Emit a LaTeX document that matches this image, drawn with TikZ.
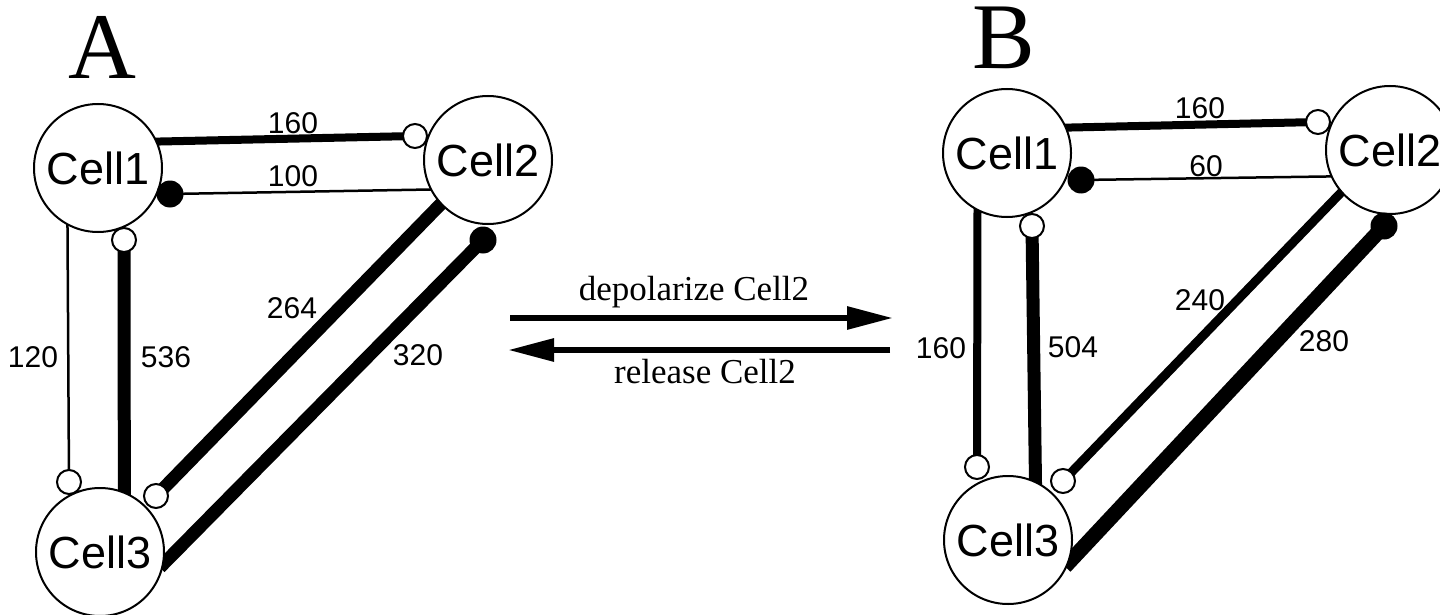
\documentclass[tikz,border=0pt]{standalone}
\usepackage{fontspec}
\setmainfont{Liberation Serif}
\newfontfamily\sansf{Liberation Sans}
\usetikzlibrary{arrows.meta}
\pgfdeclarelayer{bg}
\pgfdeclarelayer{paper}
\pgfsetlayers{paper,bg,main}
\tikzset{
  cell/.style={circle, draw, line width=2pt, fill=white, minimum size=128pt, inner sep=0pt, font=\sansf\fontsize{45}{54}\selectfont},
  opent/.style={circle, draw, line width=2pt, fill=white, minimum size=24pt, inner sep=0pt},
  fillt/.style={circle, fill=black, minimum size=27pt, inner sep=0pt},
  lab/.style={font=\sansf\fontsize{30}{36}\selectfont, inner sep=0pt},
  big/.style={font=\fontsize{94}{108}\selectfont, inner sep=0pt, anchor=base},
  arrtxt/.style={font=\fontsize{35}{42}\selectfont, inner sep=0pt, anchor=base},
  wthin/.style={line width=2.5pt},
  wmed/.style={line width=8pt},
  wthick/.style={line width=13pt},
  wthicker/.style={line width=15pt},
  bigarrow/.style={line width=6pt, -{Triangle[length=46pt,width=22pt]}},
}
\begin{document}
\begin{tikzpicture}[x=1pt,y=-1pt]
\useasboundingbox (0,0) rectangle (1440,615);
\begin{pgfonlayer}{paper}
\fill[white] (0,0) rectangle (1440,615);
\end{pgfonlayer}

% ---------- Panel A ----------
\node[big] (lA) at (102,79) {A};
\node[cell] (a1) at (98,168) {Cell1};
\node[cell] (a2) at (488,160) {Cell2};
\node[cell] (a3) at (100,552) {Cell3};
\node[opent] (ta1) at (415,136) {};
\node[fillt] (ta2) at (170,194) {};
\node[opent] (ta3) at (69,482) {};
\node[opent] (ta4) at (124,240) {};
\node[opent] (ta5) at (156,496) {};
\node[fillt] (ta6) at (483,240) {};

\begin{pgfonlayer}{bg}
\draw[wmed, shorten <=-6pt] (a1.24) -- (ta1.center);
\draw[wthin, shorten >=-6pt] (ta2.center) -- (a2.207);
\draw[wthin, shorten <=-6pt] (a1.242) -- (ta3.center);
\draw[wthick, shorten >=-6pt] (ta4.center) -- (a3.68);
\draw[wthick, shorten <=-6pt] (a2.223) -- (ta5.center);
\draw[wthick, shorten >=-6pt] (ta6.center) -- (a3.350);
\end{pgfonlayer}

\node[lab] (nA160) at (293,123) {160};
\node[lab] (nA100) at (293,176) {100};
\node[lab] (nA120) at (33,357) {120};
\node[lab] (nA536) at (166,357) {536};
\node[lab] (nA264) at (292,308) {264};
\node[lab] (nA320) at (418,355) {320};

% ---------- Arrows ----------
\coordinate (arA) at (510,318);
\coordinate (arB) at (893,318);
\coordinate (arC) at (890,350);
\coordinate (arD) at (508,350);
\draw[bigarrow] (arA) -- (arB);
\draw[bigarrow] (arC) -- (arD);
\node[arrtxt] (dep) at (694,300) {depolarize Cell2};
\node[arrtxt] (rel) at (705,383) {release Cell2};

% ---------- Panel B ----------
\node[big] (lB) at (1004,69) {B};
\node[cell] (b1) at (1007,153) {Cell1};
\node[cell] (b2) at (1390,150) {Cell2};
\node[cell] (b3) at (1008,540) {Cell3};
\node[opent] (tb1) at (1318,122) {};
\node[fillt] (tb2) at (1081,180) {};
\node[opent] (tb3) at (977,467) {};
\node[opent] (tb4) at (1032,226) {};
\node[opent] (tb5) at (1063,481) {};
\node[fillt] (tb6) at (1384,226) {};

\begin{pgfonlayer}{bg}
\draw[wmed, shorten <=-6pt] (b1.23) -- (tb1.center);
\draw[wthin, shorten >=-6pt] (tb2.center) -- (b2.204);
\draw[wmed, shorten <=-6pt] (b1.243) -- (tb3.center);
\draw[wthick, shorten >=-6pt] (tb4.center) -- (b3.65);
\draw[line width=9pt, shorten <=-6pt] (b2.221) -- (tb5.center);
\draw[wthicker, shorten >=-6pt] (tb6.center) -- (b3.340);
\end{pgfonlayer}

\node[lab] (nB160) at (1200,108) {160};
\node[lab] (nB60) at (1206,166) {60};
\node[lab] (nB240) at (1200,300) {240};
\node[lab] (nB160v) at (941,348) {160};
\node[lab] (nB504) at (1073,347) {504};
\node[lab] (nB280) at (1324,341) {280};
\end{tikzpicture}
\end{document}
